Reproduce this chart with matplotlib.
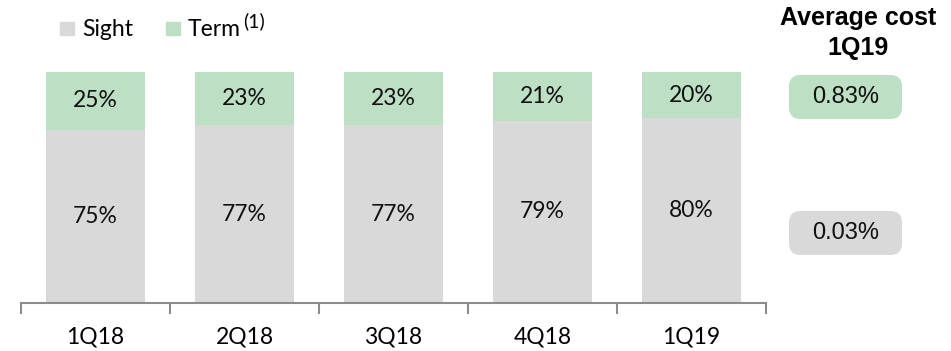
import matplotlib
matplotlib.use("Agg")
import matplotlib.pyplot as plt
from matplotlib.patches import FancyBboxPatch, Rectangle

categories = ["1Q18", "2Q18", "3Q18", "4Q18", "1Q19"]
sight = [75, 77, 77, 79, 80]
term = [25, 23, 23, 21, 20]
avg_cost_term = "0.83%"
avg_cost_sight = "0.03%"
series_names = ["Sight", "Term"]

GRAY = "#d9d9d9"
GREEN = "#bddfc4"
W, H = 951, 351
FONT = "Lato"

fig = plt.figure(figsize=(W / 100, H / 100), dpi=100)
ax = fig.add_axes([21 / W, (H - 303) / H, 745 / W, (303 - 72) / H])

x = list(range(len(categories)))
ax.bar(x, sight, width=0.66, color=GRAY, edgecolor="none")
ax.bar(x, term, bottom=sight, width=0.66, color=GREEN, edgecolor="none")
for i in x:
    ax.text(i, sight[i] / 2, f"{sight[i]}%", ha="center", va="center",
            fontsize=16.5, family=FONT, color="#111111")
    ax.text(i, sight[i] + term[i] / 2, f"{term[i]}%", ha="center", va="center",
            fontsize=16.5, family=FONT, color="#111111")

ax.set_xlim(-0.5, len(categories) - 0.5)
ax.set_ylim(0, 100)
for s in ["top", "right", "left"]:
    ax.spines[s].set_visible(False)
ax.spines["bottom"].set_color("#8c8c8c")
ax.spines["bottom"].set_linewidth(1.5)
ax.set_yticks([])
ax.set_xticks([i - 0.5 for i in range(len(categories) + 1)], minor=False)
ax.set_xticklabels([])
ax.tick_params(axis="x", which="major", length=8, width=1.5, color="#8c8c8c",
               direction="out")
ax.set_xticks(x, minor=True)
ax.set_xticklabels(categories, minor=True, fontsize=16.5, family=FONT)
ax.tick_params(axis="x", which="minor", length=0, pad=17)

# Legend
def fy(py):
    return (H - py) / H

fig.patches.append(Rectangle((60 / W, fy(35)), 14 / W, 13 / H, color=GRAY,
                             transform=fig.transFigure, figure=fig))
fig.text(82 / W, fy(29), series_names[0], fontsize=16.5, family=FONT, va="center", ha="left")
fig.patches.append(Rectangle((166 / W, fy(35)), 14 / W, 13 / H, color=GREEN,
                             transform=fig.transFigure, figure=fig))
fig.text(188 / W, fy(29), series_names[1], fontsize=16.5, family=FONT, va="center", ha="left")
fig.text(243 / W, fy(21), "(1)", fontsize=14, family=FONT, va="center", ha="left")

# Right panel
fig.text(858 / W, fy(18), "Average cost", fontsize=18, family="Liberation Sans",
         weight="bold", ha="center", va="center")
fig.text(858 / W, fy(48), "1Q19", fontsize=18, family="Liberation Sans",
         weight="bold", ha="center", va="center")
for (y0, y1), col, txt in [((75, 119), GREEN, avg_cost_term), ((211, 255), GRAY, avg_cost_sight)]:
    box = FancyBboxPatch((789 / W, fy(y1)), 113 / W, (y1 - y0) / H,
                         boxstyle="round,pad=0,rounding_size=0.012",
                         mutation_aspect=W / H,
                         facecolor=col, edgecolor="none",
                         transform=fig.transFigure, figure=fig)
    fig.patches.append(box)
    fig.text(845.5 / W, fy((y0 + y1) / 2), txt, fontsize=17, family="Liberation Sans",
             ha="center", va="center", color="#111111")

fig.savefig("out.png", dpi=100)
